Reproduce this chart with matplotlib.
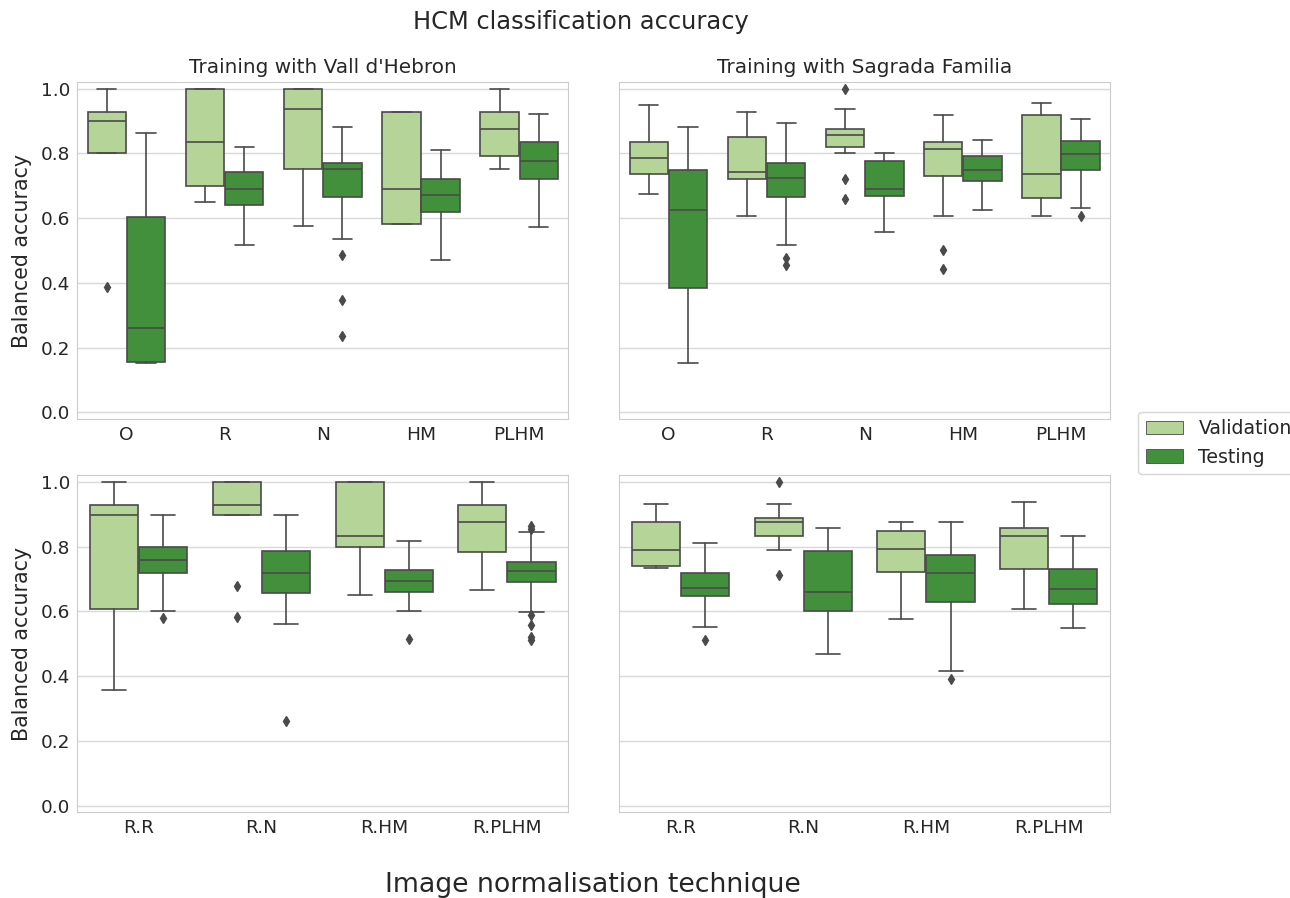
import matplotlib
matplotlib.use("Agg")
import matplotlib.pyplot as plt
from matplotlib.patches import Patch
import seaborn as sns

sns.set_style("whitegrid")
plt.rcParams["font.family"] = ["DejaVu Sans"]

# ---------------- data (box statistics) ----------------
single_methods = ["O", "R", "N", "HM", "PLHM"]
combined_methods = ["R.R", "R.N", "R.HM", "R.PLHM"]
hue_names = ["Validation", "Testing"]

# each entry: (lower whisker, Q1, median, Q3, upper whisker)
vh_single_val = [(0.800, 0.800, 0.900, 0.928, 1.000),
                 (0.650, 0.700, 0.835, 1.000, 1.000),
                 (0.576, 0.751, 0.939, 1.000, 1.000),
                 (0.583, 0.583, 0.691, 0.928, 0.928),
                 (0.751, 0.792, 0.875, 0.928, 1.000)]
vh_single_val_out = [[0.387], [], [], [], []]
vh_single_test = [(0.151, 0.156, 0.259, 0.603, 0.864),
                  (0.516, 0.641, 0.691, 0.743, 0.819),
                  (0.536, 0.666, 0.751, 0.770, 0.881),
                  (0.470, 0.619, 0.671, 0.722, 0.812),
                  (0.574, 0.720, 0.778, 0.834, 0.921)]
vh_single_test_out = [[], [], [0.486, 0.348, 0.236], [], []]

sf_single_val = [(0.675, 0.735, 0.786, 0.834, 0.951),
                 (0.608, 0.722, 0.742, 0.850, 0.928),
                 (0.801, 0.819, 0.857, 0.875, 0.938),
                 (0.607, 0.730, 0.813, 0.835, 0.918),
                 (0.607, 0.662, 0.735, 0.918, 0.955)]
sf_single_val_out = [[], [], [1.000, 0.722, 0.660], [0.501, 0.444], []]
sf_single_test = [(0.151, 0.384, 0.625, 0.750, 0.881),
                  (0.516, 0.665, 0.724, 0.770, 0.895),
                  (0.558, 0.668, 0.689, 0.778, 0.801),
                  (0.624, 0.714, 0.748, 0.793, 0.842),
                  (0.631, 0.748, 0.799, 0.840, 0.905)]
sf_single_test_out = [[], [0.478, 0.454], [], [], [0.608]]

vh_comb_val = [(0.357, 0.606, 0.899, 0.927, 1.000),
               (0.899, 0.899, 0.927, 1.000, 1.000),
               (0.650, 0.800, 0.832, 1.000, 1.000),
               (0.666, 0.784, 0.875, 0.927, 1.000)]
vh_comb_val_out = [[], [0.678, 0.583], [], []]
vh_comb_test = [(0.601, 0.718, 0.760, 0.800, 0.899),
                (0.561, 0.657, 0.718, 0.787, 0.899),
                (0.602, 0.659, 0.693, 0.728, 0.817),
                (0.597, 0.690, 0.726, 0.753, 0.844)]
vh_comb_test_out = [[0.579], [0.263], [0.515],
                    [0.862, 0.855, 0.588, 0.557, 0.522, 0.513]]

sf_comb_val = [(0.733, 0.740, 0.790, 0.875, 0.931),
               (0.791, 0.832, 0.875, 0.888, 0.931),
               (0.577, 0.721, 0.794, 0.848, 0.875),
               (0.607, 0.732, 0.832, 0.856, 0.937)]
sf_comb_val_out = [[], [1.000, 0.713], [], []]
sf_comb_test = [(0.552, 0.646, 0.672, 0.720, 0.811),
                (0.468, 0.602, 0.660, 0.787, 0.856),
                (0.416, 0.629, 0.718, 0.774, 0.875),
                (0.550, 0.622, 0.670, 0.732, 0.832)]
sf_comb_test_out = [[0.513], [], [0.390], []]

# ---------------- styling ----------------
val_color = "#b4d597"
test_color = "#428f3c"
line_color = "#4a4a4a"
LW = 1.2


def make_stats(rows, outs):
    stats = []
    for (lo, q1, med, q3, hi), fl in zip(rows, outs):
        stats.append(dict(whislo=lo, q1=q1, med=med, q3=q3, whishi=hi, fliers=fl))
    return stats


def draw_panel(ax, cats, val, val_out, test, test_out):
    n = len(cats)
    for rows, outs, col, off in [(val, val_out, val_color, -0.2),
                                 (test, test_out, test_color, 0.2)]:
        pos = [i + off for i in range(n)]
        ax.bxp(make_stats(rows, outs), positions=pos, widths=0.392,
               patch_artist=True, manage_ticks=False,
               boxprops=dict(facecolor=col, edgecolor=line_color, linewidth=LW),
               medianprops=dict(color=line_color, linewidth=LW),
               whiskerprops=dict(color=line_color, linewidth=LW),
               capprops=dict(color=line_color, linewidth=LW),
               flierprops=dict(marker="d", markerfacecolor=line_color,
                               markeredgecolor=line_color, markersize=5))
    ax.set_xticks(range(n))
    ax.set_xticklabels(cats)
    ax.set_xlim(-0.5, n - 0.5)
    ax.set_ylim(-0.02, 1.02)
    ax.set_yticks([0.0, 0.2, 0.4, 0.6, 0.8, 1.0])
    ax.tick_params(axis="both", labelsize=13.3, length=0, pad=5)
    for s in ax.spines.values():
        s.set_color("#cccccc")
    ax.grid(axis="x", visible=False)
    ax.grid(axis="y", color="#d9d9d9", linewidth=1.0)


fig = plt.figure(figsize=(12.9, 8.98), dpi=100)
L1, R1 = 77.3 / 1290, 568.3 / 1290
L2, R2 = 619.3 / 1290, 1110 / 1290
T1, B1 = 1 - 82.3 / 898, 1 - 418.7 / 898
T2, B2 = 1 - 475.3 / 898, 1 - 812.3 / 898
ax00 = fig.add_axes([L1, B1, R1 - L1, T1 - B1])
ax01 = fig.add_axes([L2, B1, R2 - L2, T1 - B1], sharey=ax00)
ax10 = fig.add_axes([L1, B2, R1 - L1, T2 - B2], sharey=ax00)
ax11 = fig.add_axes([L2, B2, R2 - L2, T2 - B2], sharey=ax00)

draw_panel(ax00, single_methods, vh_single_val, vh_single_val_out, vh_single_test, vh_single_test_out)
draw_panel(ax01, single_methods, sf_single_val, sf_single_val_out, sf_single_test, sf_single_test_out)
draw_panel(ax10, combined_methods, vh_comb_val, vh_comb_val_out, vh_comb_test, vh_comb_test_out)
draw_panel(ax11, combined_methods, sf_comb_val, sf_comb_val_out, sf_comb_test, sf_comb_test_out)

for ax in (ax01, ax11):
    plt.setp(ax.get_yticklabels(), visible=False)
for ax in (ax00, ax10):
    ax.set_ylabel("Balanced accuracy", fontsize=14.8)
    ax.yaxis.set_label_coords(-(77.3 - 32) / (568.3 - 77.3), 0.5)

ax00.set_title("Training with Vall d'Hebron", fontsize=14.4, pad=7)
ax01.set_title("Training with Sagrada Familia", fontsize=14.4, pad=7)

fig.text(581 / 1290, 1 - 22 / 898, "HCM classification accuracy", ha="center", va="center", fontsize=17.4)
fig.text(593 / 1290, 1 - 885 / 898, "Image normalisation technique", ha="center", va="center", fontsize=19.3)

handles = [Patch(facecolor=val_color, edgecolor=line_color, linewidth=0.6, label=hue_names[0]),
           Patch(facecolor=test_color, edgecolor=line_color, linewidth=0.6, label=hue_names[1])]
fig.legend(handles=handles, loc="upper left", bbox_to_anchor=(1138 / 1290, 1 - 411.7 / 898),
           fontsize=13.6, frameon=True, edgecolor="#cccccc", borderaxespad=0)

fig.savefig("out.png", dpi=100)
